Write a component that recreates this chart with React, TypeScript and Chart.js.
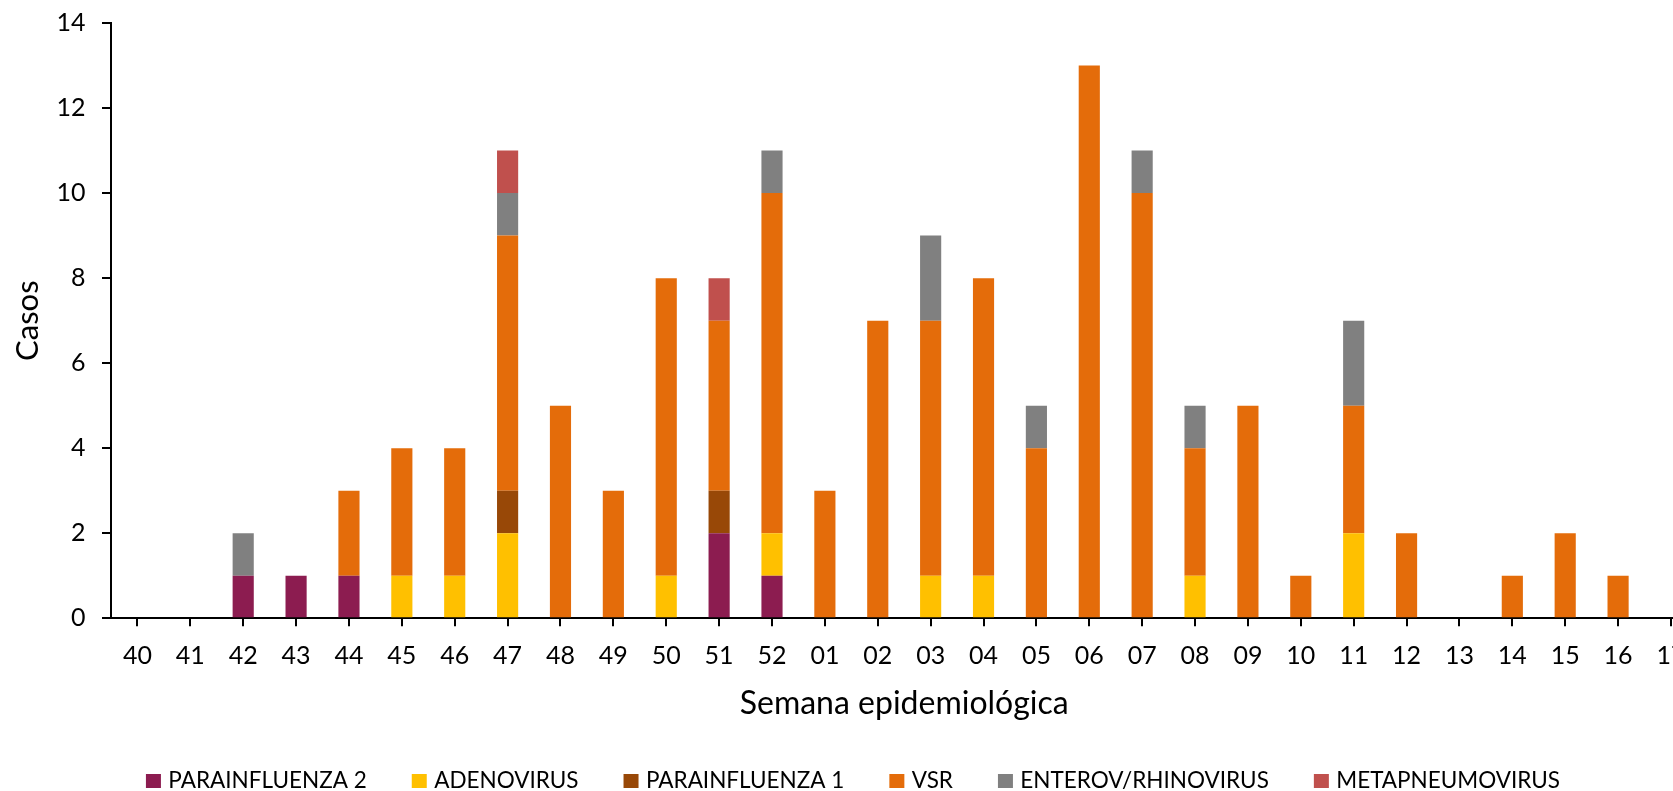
import React, { useEffect, useRef } from "react";
import { Chart, registerables } from "chart.js";

Chart.register(...registerables);

const weeks = ["40","41","42","43","44","45","46","47","48","49","50","51","52","01","02","03","04","05","06","07","08","09","10","11","12","13","14","15","16","17"];
const parainfluenza2 = [0,0,1,1,1,0,0,0,0,0,0,2,1,0,0,0,0,0,0,0,0,0,0,0,0,0,0,0,0,0];
const adenovirus =     [0,0,0,0,0,1,1,2,0,0,1,0,1,0,0,1,1,0,0,0,1,0,0,2,0,0,0,0,0,0];
const parainfluenza1 = [0,0,0,0,0,0,0,1,0,0,0,1,0,0,0,0,0,0,0,0,0,0,0,0,0,0,0,0,0,0];
const vsr =            [0,0,0,0,2,3,3,6,5,3,7,4,8,3,7,6,7,4,13,10,3,5,1,3,2,0,1,2,1,0];
const enterovRhino =   [0,0,1,0,0,0,0,1,0,0,0,0,1,0,0,2,0,1,0,1,1,0,0,2,0,0,0,0,0,0];
const metapneumo =     [0,0,0,0,0,0,0,1,0,0,0,1,0,0,0,0,0,0,0,0,0,0,0,0,0,0,0,0,0,0];
const yTicks = [0, 2, 4, 6, 8, 10, 12, 14];

const FONT = "Lato";

export default function App() {
  const ref = useRef<HTMLCanvasElement>(null);
  useEffect(() => {
    const chart = new Chart(ref.current!, {
      type: "bar",
      data: {
        labels: weeks,
        datasets: [
          { label: "PARAINFLUENZA 2", data: parainfluenza2, backgroundColor: "#8C1C50" },
          { label: "ADENOVIRUS", data: adenovirus, backgroundColor: "#FFC000" },
          { label: "PARAINFLUENZA 1", data: parainfluenza1, backgroundColor: "#984807" },
          { label: "VSR", data: vsr, backgroundColor: "#E46C0A" },
          { label: "ENTEROV/RHINOVIRUS", data: enterovRhino, backgroundColor: "#808080" },
          { label: "METAPNEUMOVIRUS", data: metapneumo, backgroundColor: "#C0504D" },
        ],
      },
      options: {
        responsive: false,
        animation: false,
        layout: { padding: { top: 23, right: 8.6, left: 0, bottom: 56 } },
        datasets: { bar: { barPercentage: 0.4, categoryPercentage: 1 } },
        plugins: { legend: { display: false }, tooltip: { enabled: false } },
        scales: {
          x: {
            stacked: true,
            grid: { display: true, drawOnChartArea: false, drawTicks: true, tickLength: 8, offset: false, color: "#000", lineWidth: 2 },
            border: { display: true, color: "#000", width: 2 },
            ticks: { color: "#000", font: { family: FONT, size: 25 }, padding: 15, maxRotation: 0, autoSkip: false },
            title: { display: true, text: "Semana epidemiológica", color: "#000", font: { family: FONT, size: 32 }, padding: { top: 0, bottom: 12 } },
            afterFit: (s: any) => { s.height = 735 - 618.3; s.paddingLeft = 0; s.paddingRight = 0; },
          },
          y: {
            stacked: true,
            min: 0,
            max: 14,
            afterBuildTicks: (s: any) => { s.ticks = yTicks.map((v) => ({ value: v })); },
            grid: { display: true, drawOnChartArea: false, drawTicks: true, tickLength: 9, color: "#000", lineWidth: 2 },
            border: { display: true, color: "#000", width: 2 },
            ticks: { color: "#000", font: { family: FONT, size: 25 }, padding: 16.5 },
            title: { display: true, text: "Casos", color: "#000", font: { family: FONT, size: 31 }, padding: { top: 9, bottom: 0 } },
            afterFit: (s: any) => { s.width = 111; s.paddingTop = 0; s.paddingBottom = 0; },
          },
        },
      },
      plugins: [
        {
          id: "customLegend",
          afterDraw(ch: any) {
            const ctx = ch.ctx;
            const ds = ch.data.datasets;
            ctx.save();
            ctx.font = `22.5px ${FONT}`;
            const box = 15, boxH = 14, gapText = 7.4, gapItem = 45;
            const widths = ds.map((d: any) => box + gapText + ctx.measureText(d.label).width);
            const total = widths.reduce((a: number, b: number) => a + b, 0) + gapItem * (ds.length - 1);
            let x = ch.width / 2 - total / 2;
            const yc = 781;
            ctx.textBaseline = "middle";
            ctx.textAlign = "left";
            ds.forEach((d: any, i: number) => {
              ctx.fillStyle = d.backgroundColor;
              ctx.fillRect(x, yc - boxH / 2, box, boxH);
              ctx.fillStyle = "#000";
              ctx.fillText(d.label, x + box + gapText, yc);
              x += widths[i] + gapItem;
            });
            ctx.restore();
          },
        },
      ],
    });
    return () => chart.destroy();
  }, []);

  return (
    <div style={{ position: "absolute", left: 0, top: 0, width: 1673, height: 791, overflow: "hidden", background: "#fff" }}>
      <canvas ref={ref} width={1706} height={791} />
    </div>
  );
}
